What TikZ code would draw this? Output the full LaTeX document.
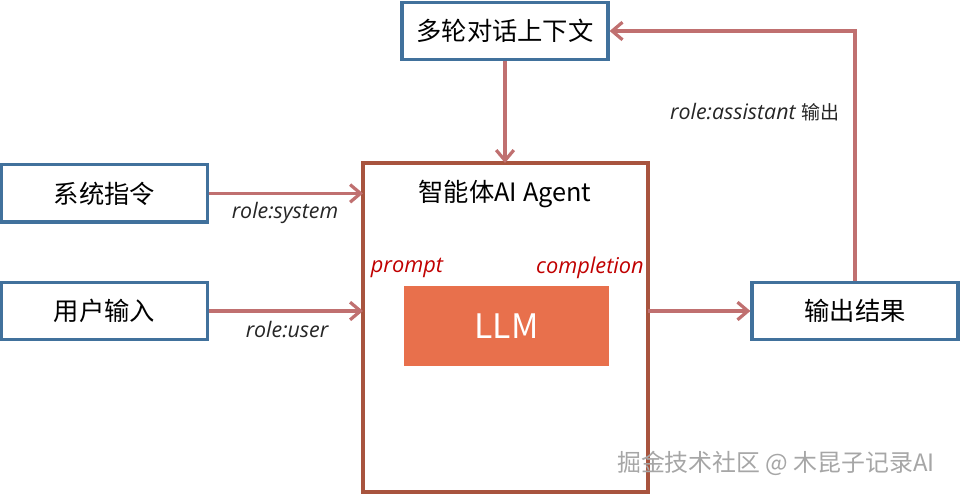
\documentclass[tikz,border=0pt]{standalone}
\usepackage{fontspec}
\newfontfamily\cjk{Noto Sans CJK SC}
\newfontfamily\hand{Open Sans}
\usetikzlibrary{arrows.meta}
\definecolor{boxblue}{RGB}{65,113,156}
\definecolor{flowred}{RGB}{192,112,112}
\definecolor{agentred}{RGB}{168,84,62}
\definecolor{llmfill}{RGB}{232,112,76}
\definecolor{tagred}{RGB}{192,0,0}
\begin{document}
\begin{tikzpicture}[box/.style={rectangle,draw=boxblue,line width=2.3pt,fill=white,
                      minimum width=5.15cm, minimum height=1.43cm,
                      font=\cjk\fontsize{18}{20}\selectfont},
                    flow/.style={draw=flowred,line width=2.3pt,-{Straight Barb[length=2.6mm,width=4.4mm]}},
                    role/.style={font=\hand\itshape\fontsize{15.2}{17}\selectfont,text=black!85},
                    tag/.style={font=\hand\itshape\fontsize{15.5}{17}\selectfont,text=tagred}]
\useasboundingbox (0,0) rectangle (24,12.375);

\draw[agentred, line width=2.3pt] (9.075,0.075) rectangle (16.2,8.3);
\draw (12.625,7.52) node[font=\cjk\fontsize{18}{20}\selectfont] (title) {智能体AI Agent};
\draw (12.6625,4.225) node[rectangle, fill=llmfill, minimum width=5.125cm, minimum height=2cm,
      text=white, font=\cjk\fontsize{24}{26}\selectfont] (llm) {LLM};
\draw (10.175,5.68) node[tag] (prompt) {prompt}
      (14.75,5.68) node[tag] (completion) {completion};
\coordinate (agentN) at (12.625,8.3);
\coordinate (agentW1) at (9.075,7.54);
\coordinate (agentW2) at (9.075,4.6);
\coordinate (agentE) at (16.2,4.6);

\draw (12.625,11.6) node[box] (ctx) {多轮对话上下文}
      (2.6125,7.54) node[box] (sys) {系统指令}
      (2.6125,4.6) node[box] (usr) {用户输入}
      (21.375,4.6) node[box] (out) {输出结果};

\draw[flow] (ctx.south) -- (agentN);
\draw[flow] (sys.east) -- (agentW1);
\draw[flow] (usr.east) -- (agentW2);
\draw[flow] (agentE) -- (out.west);
\draw[flow] (out.north) |- (ctx.east);

\draw (7.125,7.05) node[role] (sysrole) {role:system}
      (7.175,4.13) node[role] (usrrole) {role:user}
      (18.875,9.58) node[role] (outrole) {role:assistant \textup{\cjk\fontsize{13.5}{15}\selectfont 输出}};

\draw (19.4,0.8) node[text=black!35, font=\cjk\fontsize{17}{19}\selectfont] (mark) {掘金技术社区 @ 木昆子记录AI};
\end{tikzpicture}
\end{document}
